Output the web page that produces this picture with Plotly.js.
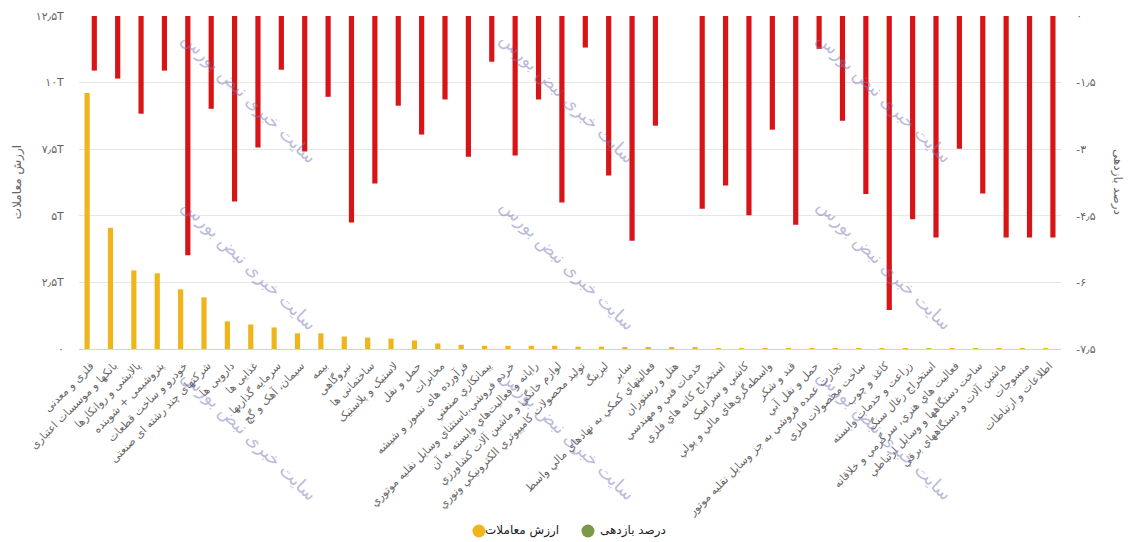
<!DOCTYPE html>
<html>
<head>
<meta charset="utf-8">
<script src="https://cdn.plot.ly/plotly-3.0.1.min.js"></script>
<style>html,body{margin:0;padding:0;background:#fff;}#chart{width:1137px;height:542px;}</style>
</head>
<body>
<div id="chart"></div>
<script>
// Categories (sectors)
const categories = [
  'فلزی و معدنی',
  'بانکها و موسسات اعتباری',
  'پالایشی و روانکارها',
  'پتروشیمی + شوینده',
  'خودرو و ساخت قطعات',
  'شرکتهای چند رشته ای صنعتی',
  'دارویی ها',
  'غذایی ها',
  'سرمایه گذاریها',
  'سیمان، آهک و گچ',
  'بیمه',
  'نیروگاهی',
  'ساختمانی ها',
  'لاستیک و پلاستیک',
  'حمل و نقل',
  'مخابرات',
  'فرآورده های نسوز و شیشه',
  'پيمانکاري صنعتي',
  'خرده فروشي،باستثناي وسايل نقليه موتوري',
  'رايانه و فعاليت‌هاي وابسته به آن',
  'لوازم خانگي و ماشين آلات کشاورزي',
  'توليد محصولات کامپيوتري الکترونيکي ونوري',
  'لیزینگ',
  'سایر',
  'فعاليتهاي کمکي به نهادهاي مالي واسط',
  'هتل و رستوران',
  'خدمات فني و مهندسي',
  'استخراج کانه هاي فلزي',
  'کاشي و سراميک',
  'واسطه‌گري‌هاي مالي و پولي',
  'قند و شکر',
  'حمل و نقل آبي',
  'تجارت عمده فروشي به جز وسايل نقليه موتور',
  'ساخت محصولات فلزي',
  'کاغذ و چوب',
  'زراعت و خدمات وابسته',
  'استخراج زغال سنگ',
  'فعاليت هاي هنري، سرگرمي و خلاقانه',
  'ساخت دستگاهها و وسايل ارتباطي',
  'ماشين آلات و دستگاههاي برقي',
  'منسوجات',
  'اطلاعات و ارتباطات'
];

// Trade value (trillion rials, "T")
const tradeValue = [
  9.61, 4.55, 2.95, 2.84, 2.24, 1.94, 1.04, 0.92, 0.81, 0.59,
  0.59, 0.47, 0.43, 0.39, 0.32, 0.21, 0.16, 0.12, 0.12, 0.12,
  0.12, 0.09, 0.09, 0.05, 0.05, 0.05, 0.04, 0.01, 0.01, 0.01,
  0.01, 0.01, 0.01, 0.01, 0.01, 0.01, 0.01, 0.01, 0.01, 0.01,
  0.01, 0.01
];

// Return percentage
const returnPct = [
  -1.23, -1.41, -2.20, -1.23, -5.39, -2.09, -4.18, -2.96, -1.21, -3.05,
  -1.82, -4.65, -3.77, -2.02, -2.67, -1.88, -3.17, -1.03, -3.14, -1.88,
  -4.20, -0.71, -3.59, -5.06, -2.47, 0, -4.34, -3.82, -4.49, -2.56,
  -4.70, -0.74, -2.36, -4.01, -6.62, -4.58, -4.99, -2.99, -4.00, -4.99,
  -4.99, -4.99
];

// Tick values / labels
const leftTickVals = [0, 2.5, 5, 7.5, 10, 12.5];
const leftTickText = ['۰', '۲٫۵T', '۵T', '۷٫۵T', '۱۰T', '۱۲٫۵T'];
const rightTickVals = [0, -1.5, -3, -4.5, -6, -7.5];
const rightTickText = ['۰', '-۱٫۵', '-۳', '-۴٫۵', '-۶', '-۷٫۵'];

const seriesNames = ['ارزش معاملات', 'درصد بازدهی'];
const watermark = 'سایت خبری نبض بورس';

const YELLOW = '#f0b51d';
const RED = '#d81416';
const GREEN = '#7b9a45';
const FONT = 'DejaVu Sans, Noto Sans, sans-serif';

const traces = [
  {
    type: 'bar', x: categories, y: tradeValue, yaxis: 'y',
    marker: {color: YELLOW}, width: 0.222, offset: -0.265,
    showlegend: false, hoverinfo: 'x+y', name: seriesNames[0]
  },
  {
    type: 'bar', x: categories, y: returnPct, yaxis: 'y2',
    marker: {color: RED}, width: 0.222, offset: 0.043,
    showlegend: false, hoverinfo: 'x+y', name: seriesNames[1]
  }
];

// watermark annotations (paper coords, centered)
const wmAnn = [];
[0.173, 0.497, 0.820].forEach(function (xp) {
  [0.754, 0.252, -0.259].forEach(function (yp) {
    wmAnn.push({
      text: watermark, xref: 'paper', yref: 'paper', x: xp, y: yp,
      xanchor: 'center', yanchor: 'middle',
      showarrow: false, textangle: 44,
      font: {family: FONT, size: 18, color: 'rgba(120,120,185,0.5)'}
    });
  });
});

// custom legend (circle left of text, like reference)
const legendY = -0.5465;
const legendItems = [
  {cx: 0.4073, tx: 0.4511, color: YELLOW, name: seriesNames[0]},
  {cx: 0.5183, tx: 0.5642, color: GREEN, name: seriesNames[1]}
];
const legendAnn = legendItems.map(function (it) {
  return {
    text: it.name, xref: 'paper', yref: 'paper', x: it.tx, y: legendY,
    xanchor: 'center', yanchor: 'middle', showarrow: false,
    font: {family: FONT, size: 12, color: '#222222'}
  };
});
const legendShapes = legendItems.map(function (it) {
  return {
    type: 'circle', xref: 'paper', yref: 'paper',
    xsizemode: 'pixel', ysizemode: 'pixel',
    xanchor: it.cx, yanchor: legendY,
    x0: -6.5, x1: 6.5, y0: -6.5, y1: 6.5,
    fillcolor: it.color, line: {width: 0}
  };
});

const layout = {
  width: 1137, height: 542,
  margin: {l: 79, r: 76, t: 16, b: 193},
  paper_bgcolor: '#ffffff', plot_bgcolor: '#ffffff',
  font: {family: FONT, color: '#666666', size: 11},
  showlegend: false,
  xaxis: {
    type: 'category', tickangle: -45,
    tickfont: {family: FONT, size: 11, color: '#666666'},
    showgrid: false, showline: true, linecolor: '#ccd6eb', linewidth: 1,
    ticks: 'outside', ticklen: 5, tickcolor: 'rgba(0,0,0,0)',
    zeroline: false, automargin: false
  },
  yaxis: {
    range: [0, 12.5], tickvals: leftTickVals, ticktext: leftTickText,
    showgrid: true, gridcolor: '#e6e6e6', zeroline: false,
    tickfont: {family: FONT, size: 11, color: '#666666'},
    ticks: 'outside', ticklen: 12, tickcolor: 'rgba(0,0,0,0)', automargin: false
  },
  yaxis2: {
    overlaying: 'y', side: 'right',
    range: [-7.5, 0], tickvals: rightTickVals, ticktext: rightTickText,
    showgrid: false, zeroline: false,
    tickfont: {family: FONT, size: 11, color: '#666666'},
    ticks: 'outside', ticklen: 12, tickcolor: 'rgba(0,0,0,0)', automargin: false
  },
  shapes: legendShapes,
  annotations: [
    {
      text: seriesNames[0], xref: 'paper', yref: 'paper', x: -0.0625, y: 0.5,
      xanchor: 'center', yanchor: 'middle', textangle: -90, showarrow: false,
      font: {family: FONT, size: 12, color: '#666666'}
    },
    {
      text: seriesNames[1], xref: 'paper', yref: 'paper', x: 1.0575, y: 0.5,
      xanchor: 'center', yanchor: 'middle', textangle: 90, showarrow: false,
      font: {family: FONT, size: 12, color: '#666666'}
    }
  ].concat(legendAnn).concat(wmAnn)
};

Plotly.newPlot('chart', traces, layout, {displayModeBar: false});
</script>
</body>
</html>
